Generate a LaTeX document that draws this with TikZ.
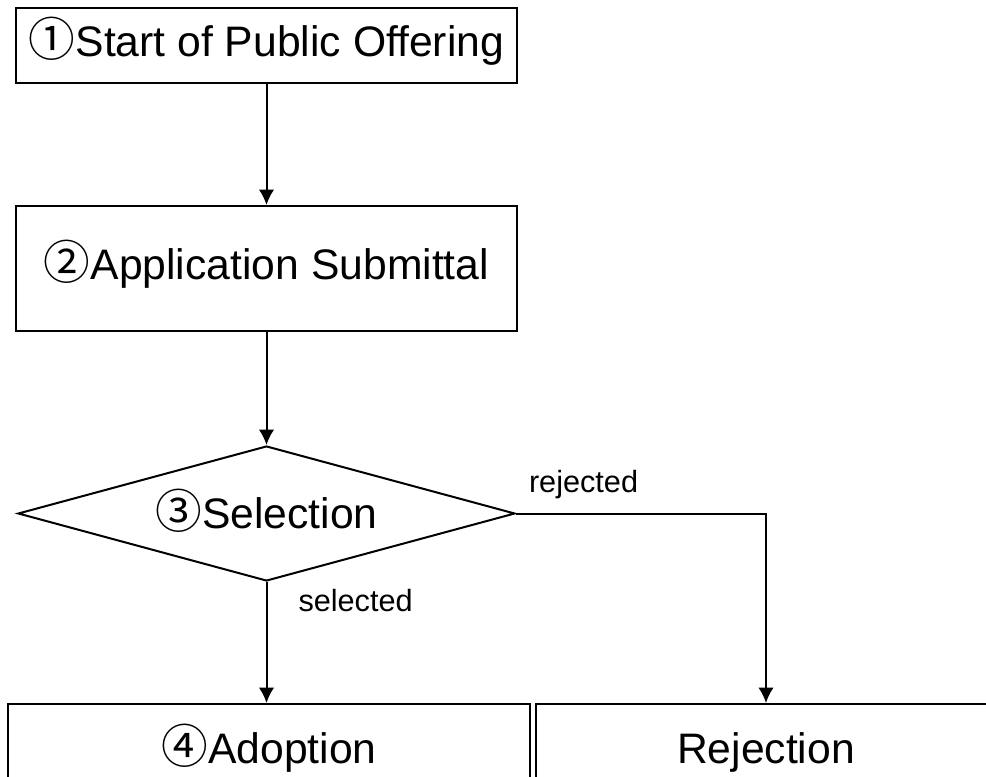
\documentclass[tikz,border=0pt]{standalone}
\usepackage{fontspec}
\setmainfont{Liberation Sans}
\newfontfamily\cjk{Noto Sans CJK JP}
\usetikzlibrary{shapes.geometric,arrows.meta}

\newcommand{\numcirc}[1]{\smash{\cjk\fontsize{35}{38}\selectfont #1}}

\tikzset{
	stepbox/.style={draw, rectangle, line width=1.5pt, inner sep=0pt, font=\fontsize{32}{38}\selectfont},
	choice/.style={draw, diamond, shape aspect=3.68, line width=1.5pt, inner sep=0pt, font=\fontsize{32}{38}\selectfont},
	flow/.style={->, line width=1.5pt, >={Latex[length=11.5pt,width=11.5pt]}},
	tag/.style={inner sep=0pt, font=\fontsize{23}{28}\selectfont}
}

\begin{document}
\begin{tikzpicture}[x=0.75pt, y=-0.75pt]
\useasboundingbox (0,0) rectangle (986,777);

\node[stepbox, minimum width=375.75pt, minimum height=56.25pt] (start) at (266.5,45.5) {\numcirc{①}Start of Public Offering};
\node[stepbox, minimum width=375.75pt, minimum height=93.75pt] (apply) at (266.5,268.5) {\numcirc{②}Application Submittal};
\node[choice, minimum width=372.75pt, minimum height=101.25pt] (select) at (266.5,513.5) {\numcirc{③}Selection};
\node[stepbox, minimum width=391.5pt, minimum height=72pt] (adopt) at (269,752) {\numcirc{④}Adoption};
\node[stepbox, minimum width=345pt, minimum height=72pt] (reject) at (766,752) {Rejection};

\draw[flow] (start) -- (apply);
\draw[flow] (apply) -- (select);
\draw[flow] (select.south) -- node[tag, pos=0, anchor=base west, xshift=23.25pt, yshift=-21.75pt] {selected} (select.south |- adopt.north);
\draw[flow] (select.east) -| node[tag, pos=0, anchor=base west, xshift=9pt, yshift=15.75pt] {rejected} (reject.north);
\end{tikzpicture}
\end{document}
